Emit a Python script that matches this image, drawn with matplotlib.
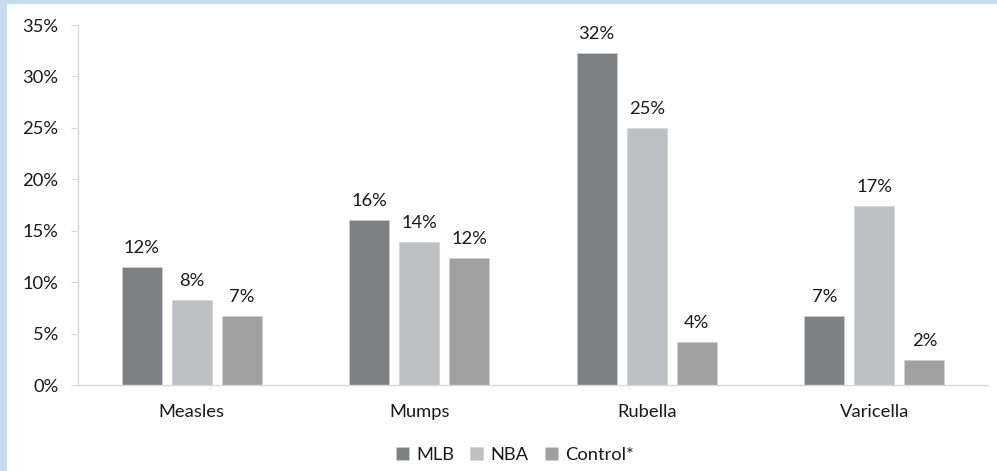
import numpy as np
import matplotlib
matplotlib.use("Agg")
import matplotlib.pyplot as plt
from matplotlib.patches import Rectangle
from matplotlib.ticker import FuncFormatter

categories = ["Measles", "Mumps", "Rubella", "Varicella"]
series_names = ["MLB", "NBA", "Control*"]
mlb = [11.5, 16.0, 32.3, 6.7]
nba = [8.3, 13.9, 25.0, 17.4]
control = [6.7, 12.3, 4.2, 2.4]
labels_mlb = ["12%", "16%", "32%", "7%"]
labels_nba = ["8%", "14%", "25%", "17%"]
labels_control = ["7%", "12%", "4%", "2%"]
y_ticks = [0, 5, 10, 15, 20, 25, 30, 35]

colors = ["#7f8084", "#bfc0c4", "#a0a0a1"]
fs = 13.2

plt.rcParams["font.family"] = ["Lato", "DejaVu Sans"]

fig = plt.figure(figsize=(9.97, 4.71), dpi=100)
fig.patch.set_facecolor("white")
# light blue frame on the left and top edges
fig.patches.append(Rectangle((0, 0), 7 / 997, 1, transform=fig.transFigure,
                             facecolor="#c6dcf0", edgecolor="none"))
fig.patches.append(Rectangle((0, 1 - 4 / 471), 1, 4 / 471, transform=fig.transFigure,
                             facecolor="#c6dcf0", edgecolor="none"))

ax = fig.add_axes([78 / 997, 1 - 385 / 471, 910 / 997, 360 / 471])

x = np.arange(len(categories))
width = 0.176
step = 0.22
all_series = [mlb, nba, control]
all_labels = [labels_mlb, labels_nba, labels_control]
for i, (vals, labs) in enumerate(zip(all_series, all_labels)):
    pos = x + (i - 1) * step
    ax.bar(pos, vals, width, color=colors[i], label=series_names[i],
           edgecolor="#d0d0d0", linewidth=0.4, zorder=2)
    for p, v, t in zip(pos, vals, labs):
        ax.annotate(t, (p, v), xytext=(0, 8), textcoords="offset points",
                    ha="center", va="bottom", fontsize=fs, color="#1a1a1a")

ax.set_xlim(-0.5, len(categories) - 0.5)
ax.set_ylim(0, 35)
ax.set_yticks(y_ticks)
ax.yaxis.set_major_formatter(FuncFormatter(lambda v, _: f"{v:.0f}%"))
ax.set_xticks(x)
ax.set_xticklabels(categories)

for side in ["top", "right"]:
    ax.spines[side].set_visible(False)
ax.spines["left"].set_color("#d9d9d9")
ax.spines["bottom"].set_color("#d9d9d9")
ax.spines["left"].set_linewidth(1)
ax.spines["bottom"].set_linewidth(1)
ax.tick_params(axis="y", length=5, color="#d9d9d9", labelsize=fs,
               labelcolor="#1a1a1a", pad=9)
ax.tick_params(axis="x", length=0, labelsize=fs, labelcolor="#1a1a1a", pad=14)

ax.legend(loc="center", bbox_to_anchor=(515 / 997, 1 - 455 / 471),
          bbox_transform=fig.transFigure, ncol=3, frameon=False,
          fontsize=fs, handlelength=0.7, handleheight=0.7,
          handletextpad=0.4, columnspacing=0.9, labelcolor="#1a1a1a")

fig.savefig("out.png", dpi=100)
